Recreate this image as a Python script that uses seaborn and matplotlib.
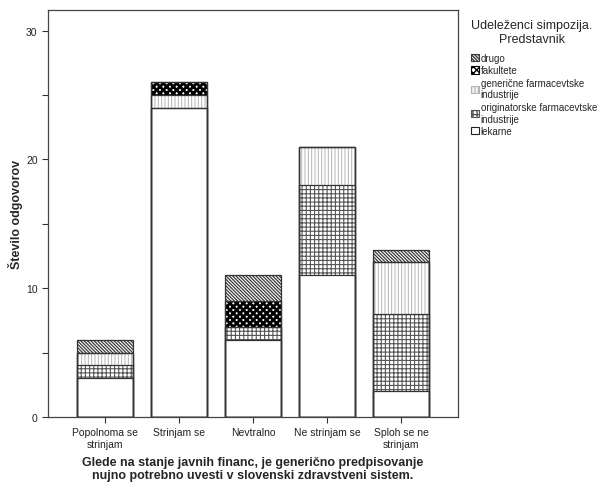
import numpy as np
import pandas as pd
import seaborn as sns
import matplotlib.pyplot as plt
from matplotlib.patches import Patch

# answers per category, split by who answered
categories = ["Popolnoma se\nstrinjam", "Strinjam se", "Nevtralno", "Ne strinjam se", "Sploh se ne\nstrinjam"]
lekarne = [3, 24, 6, 11, 2]
originatorske = [1, 0, 1, 7, 6]
genericne = [1, 1, 0, 3, 4]
fakultete = [0, 1, 2, 0, 0]
drugo = [1, 0, 2, 0, 1]

series_names = ["lekarne", "originatorske farmacevtske\nindustrije", "generične farmacevtske\nindustrije",
                "fakultete", "drugo"]
series_values = [lekarne, originatorske, genericne, fakultete, drugo]
hatches = ["", "++++", "|||||", "xxxxx", "\\" * 10]
hatch_colors = ["#444444", "#555555", "#b5b5b5", "#000000", "#3a3a3a"]
hatch_widths = [0.8, 0.8, 0.7, 2.0, 0.9]


def main():
    sns.set_theme(style="ticks")
    plt.rcParams["font.family"] = ["Liberation Sans", "DejaVu Sans"]

    fig = plt.figure(figsize=(6.05, 4.85), dpi=100)
    ax = fig.add_axes([48 / 605, 1 - 418 / 485, 410 / 605, 407 / 485])

    cumulative = np.cumsum(np.array(series_values), axis=0)
    # draw tallest stack first, lower layers cover it
    for i in reversed(range(len(series_values))):
        df = pd.DataFrame({"kat": categories, "n": cumulative[i]})
        with plt.rc_context({"hatch.linewidth": hatch_widths[i]}):
            sns.barplot(data=df, x="kat", y="n", color="white", saturation=1, width=0.76,
                        edgecolor=hatch_colors[i], linewidth=0, hatch=hatches[i], ax=ax)
    # outlines of every segment
    for i in reversed(range(len(series_values))):
        df = pd.DataFrame({"kat": categories, "n": cumulative[i]})
        sns.barplot(data=df, x="kat", y="n", color="#333333", fill=False, width=0.76,
                    linewidth=0.9, ax=ax)

    ax.set_ylim(0, 31.6)
    ax.set_xlim(-0.77, 4.77)
    ax.set_yticks([0, 10, 20, 30])
    ax.set_yticks([5, 15, 25], minor=True)
    ax.tick_params(axis="both", which="both", direction="out", length=4, width=0.8,
                   labelsize=7.5, color="#333333", labelcolor="#222222")
    for sp in ax.spines.values():
        sp.set_color("#444444")
        sp.set_linewidth(0.9)

    ax.set_ylabel("Število odgovorov", fontsize=9, fontweight="bold", labelpad=2)
    ax.set_xlabel("Glede na stanje javnih financ, je generično predpisovanje\nnujno potrebno uvesti v slovenski zdravstveni sistem.",
                  fontsize=9, fontweight="bold", labelpad=5, linespacing=1.1)

    handles = []
    for i in reversed(range(len(series_values))):
        with plt.rc_context({"hatch.linewidth": min(hatch_widths[i], 1.5)}):
            handles.append(Patch(facecolor="white", edgecolor="#222222" if i == 0 else hatch_colors[i],
                                 hatch=hatches[i], label=series_names[i], linewidth=0.8))
    leg = fig.legend(handles=handles, loc="upper left", bbox_to_anchor=(467 / 605, 1 - 16 / 485),
                     frameon=False, fontsize=7, title="Udeleženci simpozija.\nPredstavnik",
                     title_fontsize=9, handlelength=0.8, handleheight=0.8, handletextpad=0.2,
                     labelspacing=0.25, borderaxespad=0, alignment="left")
    leg.get_title().set_multialignment("center")
    leg._legend_box.sep = 6

    fig.savefig("out.png", dpi=100)


main()
